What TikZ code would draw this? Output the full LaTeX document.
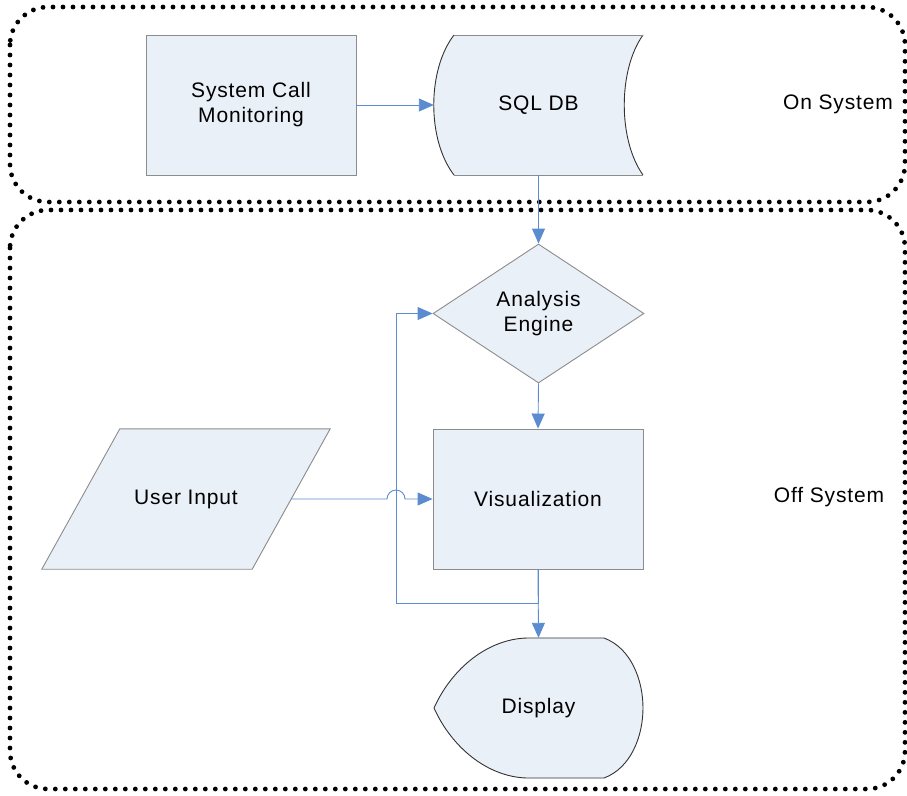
\documentclass[tikz,border=0pt]{standalone}
\usepackage{fontspec}
\setmainfont[LetterSpace=4]{Liberation Sans}
\usetikzlibrary{shapes.geometric,arrows.meta,calc}
\definecolor{boxfill}{HTML}{EAF0F8}
\definecolor{boxline}{HTML}{8C8C8C}
\definecolor{curveline}{HTML}{333333}
\definecolor{linkblue}{HTML}{5B8CCF}
\tikzset{
  region/.style={line width=4.8pt, dash pattern=on 0pt off 10pt, line cap=round, rounded corners=38pt},
  procbox/.style={rectangle, draw=boxline, fill=boxfill, line width=0.9pt, minimum width=210pt, minimum height=140pt, inner sep=0pt, align=center},
  decision/.style={diamond, draw=boxline, fill=boxfill, line width=0.9pt, minimum width=211pt, minimum height=139pt, aspect=1.5, inner sep=0pt, align=center},
  placeholder/.style={rectangle, minimum height=140pt, inner sep=0pt, align=center},
  shapefill/.style={fill=boxfill, draw=curveline, line width=0.9pt},
  connector/.style={draw=linkblue, line width=0.9pt},
  flow/.style={connector, -{Triangle[length=15pt, width=13pt]}},
  txt/.style={font=\fontsize{21}{25}\selectfont}
}
\begin{document}
\begin{tikzpicture}[x=1pt, y=-1pt, every node/.style={txt}]
\useasboundingbox (0,0) rectangle (907,795);

% system boundaries
\draw[region] (10,7) rectangle (905,202);
\draw[region] (10,210) rectangle (905,789);
\node (onsys) at (838,104) {On System};
\node (offsys) at (829,497) {Off System};

% data capture
\node[procbox] (scm) at (251,105) {System Call\\Monitoring};
\node[placeholder, minimum width=209pt] (sql) at (538.5,105) {};
\fill[boxfill] (454,35) -- (643,35) .. controls (618,70) and (618,140) .. (643,175)
  -- (454,175) .. controls (427,140) and (427,70) .. (454,35) -- cycle;
\draw[curveline, line width=0.9pt] (454,35) .. controls (427,70) and (427,140) .. (454,175);
\draw[curveline, line width=0.9pt] (643,35) .. controls (618,70) and (618,140) .. (643,175);
\draw[boxline, line width=0.9pt] (454,35) -- (643,35) (454,175) -- (643,175);
\node at (sql) {SQL DB};

% analysis
\node[decision] (eng) at (538.5,313.5) {Analysis\\Engine};
\node[procbox] (vis) at (538,499) {Visualization};

% user input (parallelogram)
\node[placeholder, minimum width=210pt] (ui) at (186,499) {};
\filldraw[boxfill, draw=boxline, line width=0.9pt]
  ($(ui.north west)+(39,0)$) -- ($(ui.north east)+(39,0)$)
  -- ($(ui.south east)+(-39,0)$) -- ($(ui.south west)+(-39,0)$) -- cycle;
\node at (ui) {User Input};

% display
\node[placeholder, minimum width=209pt] (disp) at (538.5,708) {};
\filldraw[shapefill] (434,708) .. controls (452,668) and (488,639) .. (527,638)
  -- (604,638) .. controls (631,648) and (643,680) .. (643,708)
  .. controls (643,736) and (631,768) .. (604,778)
  -- (527,778) .. controls (488,777) and (452,748) .. (434,708) -- cycle;
\node at (disp) {Display};

% connectors
\coordinate (fb) at (396,603);
\draw[flow] (scm.east) -- (sql.west);
\draw[flow] (sql.south) -- (eng.north);
\draw[flow] (eng.south) -- (vis.north);
\draw[flow] (vis.south) -- (disp.north);
\draw[connector] (vis.south) |- (fb);
\draw[flow] (fb) |- (eng.west);
\draw[flow] (ui.east) -- (387,499) arc[start angle=180, end angle=0, radius=9pt] -- (vis.west);
\end{tikzpicture}
\end{document}
